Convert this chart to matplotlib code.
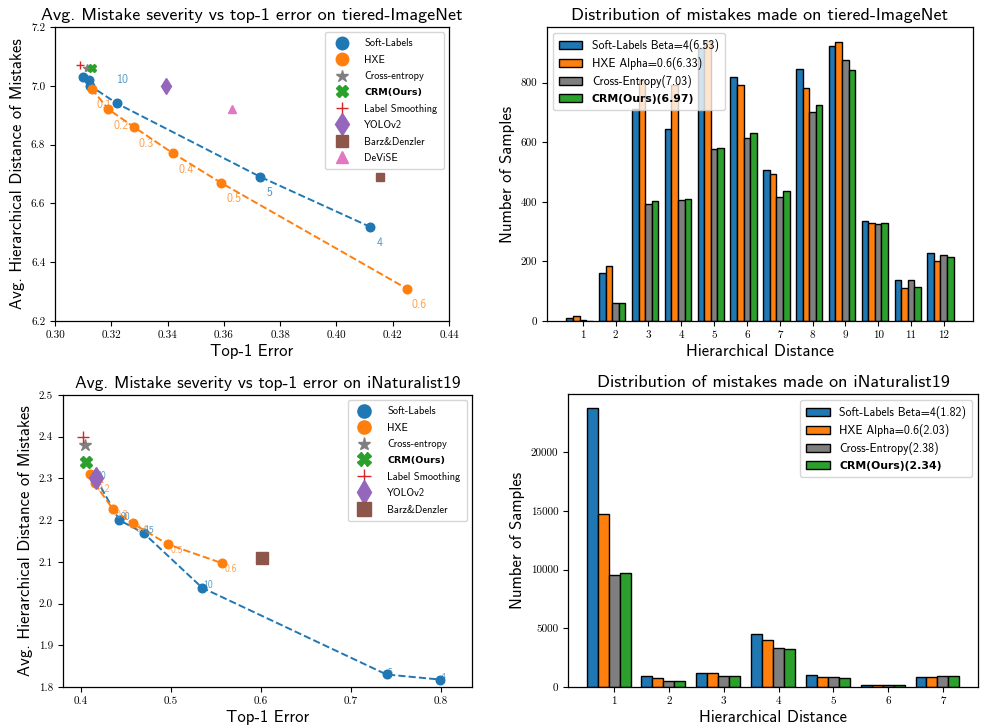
import matplotlib
matplotlib.use("Agg")
import matplotlib.pyplot as plt
from matplotlib.lines import Line2D
import numpy as np

plt.rcParams["font.family"] = ["cmss10", "DejaVu Sans"]
plt.rcParams["axes.unicode_minus"] = False
plt.rcParams["axes.linewidth"] = 0.9

# ---------------------------------------------------------------
# data: tiered-ImageNet (error vs mistake severity)
# ---------------------------------------------------------------
tiered_soft_err = [0.310, 0.312, 0.3125, 0.322, 0.373, 0.412]
tiered_soft_dist = [7.03, 7.02, 7.00, 6.94, 6.69, 6.52]
tiered_soft_lab = ["", "", "", "10", "5", "4"]

tiered_hxe_err = [0.313, 0.319, 0.328, 0.342, 0.359, 0.425]
tiered_hxe_dist = [6.99, 6.92, 6.86, 6.77, 6.67, 6.31]
tiered_hxe_lab = ["0.1", "0.2", "0.3", "0.4", "0.5", "0.6"]

tiered_other_names = ["Cross-entropy", "CRM(Ours)", "Label Smoothing", "YOLOv2", "Barz&Denzler", "DeViSE"]
tiered_other_err = [0.3115, 0.3133, 0.309, 0.3395, 0.4155, 0.363]
tiered_other_dist = [7.06, 7.06, 7.07, 7.00, 6.69, 6.92]

# data: iNaturalist19 (error vs mistake severity)
inat_soft_err = [0.417, 0.443, 0.470, 0.535, 0.740, 0.799]
inat_soft_dist = [2.30, 2.20, 2.169, 2.038, 1.830, 1.818]
inat_soft_lab = ["30", "20", "15", "10", "5", "4"]

inat_hxe_err = [0.410, 0.4155, 0.436, 0.458, 0.497, 0.557]
inat_hxe_dist = [2.31, 2.288, 2.226, 2.192, 2.142, 2.097]
inat_hxe_lab = ["0.1", "0.2", "0.3", "0.4", "0.5", "0.6"]

inat_other_names = ["Cross-entropy", "CRM(Ours)", "Label Smoothing", "YOLOv2", "Barz&Denzler"]
inat_other_err = [0.4044, 0.4063, 0.403, 0.4174, 0.6017]
inat_other_dist = [2.381, 2.34, 2.40, 2.30, 2.109]

# ---------------------------------------------------------------
# data: mistake distributions
# ---------------------------------------------------------------
tiered_dist_x = list(range(1, 13))
tiered_soft_cnt = [9, 160, 712, 645, 917, 818, 507, 845, 924, 335, 136, 229]
tiered_hxe_cnt = [17, 183, 809, 793, 940, 791, 493, 782, 937, 328, 112, 202]
tiered_ce_cnt = [2, 60, 394, 405, 578, 613, 417, 700, 877, 325, 139, 223]
tiered_crm_cnt = [1, 61, 403, 409, 580, 630, 435, 726, 844, 329, 114, 214]
tiered_bar_labels = ["Soft-Labels Beta=4(6.53)", "HXE Alpha=0.6(6.33)", "Cross-Entropy(7.03)", "CRM(Ours)(6.97)"]

inat_dist_x = list(range(1, 8))
inat_soft_cnt = [23770, 980, 1185, 4515, 985, 190, 845]
inat_hxe_cnt = [14760, 760, 1185, 4005, 845, 190, 870]
inat_ce_cnt = [9500, 475, 930, 3355, 815, 200, 980]
inat_crm_cnt = [9730, 474, 900, 3270, 760, 190, 950]
inat_bar_labels = ["Soft-Labels Beta=4(1.82)", "HXE Alpha=0.6(2.03)", "Cross-Entropy(2.38)", "CRM(Ours)(2.34)"]

# styles
C_SOFT, C_HXE = "#1f77b4", "#ff7f0e"
other_style = {
    "Cross-entropy": ("*", "#7f7f7f"),
    "CRM(Ours)": ("X", "#2ca02c"),
    "Label Smoothing": ("+", "#d62728"),
    "YOLOv2": ("d", "#9467bd"),
    "Barz&Denzler": ("s", "#8c564b"),
    "DeViSE": ("^", "#e377c2"),
}
bar_colors = ["#1f77b4", "#ff7f0e", "#7f7f7f", "#2ca02c"]

TITLE_FS = 13.0
LABEL_FS = 12
TICK_FS = 8
LEG_FS = 7.5
BAR_LEG_FS = 8.5


def set_ticks(ax, xt, xl, yt, yl):
    ax.set_xticks(xt)
    ax.set_xticklabels(xl, fontfamily="cmr10", fontsize=TICK_FS)
    ax.set_yticks(yt)
    ax.set_yticklabels(yl, fontfamily="cmr10", fontsize=TICK_FS)


def bold_crm(leg, idx, fs):
    t = leg.get_texts()[idx]
    t.set_fontfamily("DejaVu Sans")
    t.set_fontweight("bold")
    t.set_fontsize(fs - 0.7)


def tradeoff_panel(ax, sx, sy, slab, hx, hy, hlab, names, ox, oy, ms_other, leg_ms,
                   lab_fs, soff, hoff, special_off=None):
    ax.plot(sx, sy, "--o", color=C_SOFT, ms=6.2, lw=1.4, zorder=2)
    ax.plot(hx, hy, "--o", color=C_HXE, ms=6.2, lw=1.4, zorder=3)
    for i, t in enumerate(slab):
        if not t:
            continue
        off = soff
        if special_off and t in special_off:
            off = special_off[t]
        ax.annotate(t, (sx[i], sy[i]), xytext=off, textcoords="offset points",
                    color=C_SOFT, alpha=0.75, fontsize=lab_fs, ha="left", va="center")
    for i, t in enumerate(hlab):
        ax.annotate(t, (hx[i], hy[i]), xytext=hoff, textcoords="offset points",
                    color=C_HXE, alpha=0.75, fontsize=lab_fs, ha="left", va="center")
    for n, x, y in zip(names, ox, oy):
        m, c = other_style[n]
        ms = ms_other * (1.3 if m == "d" else 1.0)
        ax.plot([x], [y], ls="none", marker=m, color=c, ms=ms, zorder=4)

    handles = [Line2D([], [], ls="none", marker="o", color=C_SOFT, ms=leg_ms),
               Line2D([], [], ls="none", marker="o", color=C_HXE, ms=leg_ms)]
    for n in names:
        m, c = other_style[n]
        handles.append(Line2D([], [], ls="none", marker=m, color=c,
                              ms=leg_ms * (1.25 if m == "d" else 1.0)))
    leg = ax.legend(handles, ["Soft-Labels", "HXE"] + names, loc="upper right",
                    fontsize=LEG_FS, handletextpad=1.2, borderpad=0.6, labelspacing=0.62)
    bold_crm(leg, 3, LEG_FS)
    ax.set_xlabel("Top-1 Error", fontsize=LABEL_FS, labelpad=3)
    ax.set_ylabel("Avg. Hierarchical Distance of Mistakes", fontsize=LABEL_FS, labelpad=4)


def dist_panel(ax, xs, counts, labels, loc):
    x = np.array(xs)
    w = 0.2
    for k, (cnt, lab) in enumerate(zip(counts, labels)):
        ax.bar(x + (k - 2) * w, cnt, width=w, color=bar_colors[k], edgecolor="black",
               linewidth=1.0, label=lab)
    leg = ax.legend(loc=loc, fontsize=BAR_LEG_FS, borderpad=0.5, labelspacing=0.45)
    bold_crm(leg, 3, BAR_LEG_FS)
    ax.set_xlabel("Hierarchical Distance", fontsize=LABEL_FS, labelpad=3)
    ax.set_ylabel("Number of Samples", fontsize=LABEL_FS, labelpad=4)


fig = plt.figure(figsize=(9.86, 7.28), dpi=100)

# ---------------------------------------------------------------
# top-left
# ---------------------------------------------------------------
ax1 = fig.add_axes([0.0558, 0.5591, 0.3996, 0.4038])
tradeoff_panel(ax1, tiered_soft_err, tiered_soft_dist, tiered_soft_lab,
               tiered_hxe_err, tiered_hxe_dist, tiered_hxe_lab,
               tiered_other_names, tiered_other_err, tiered_other_dist,
               ms_other=6, leg_ms=9, lab_fs=8.5, soff=(4.3, -11.5), hoff=(3.6, -12),
               special_off={"10": (0.3, 17)})
ax1.set_xlim(0.30, 0.44)
ax1.set_ylim(6.2, 7.2)
xt = np.round(np.arange(0.30, 0.441, 0.02), 2)
yt = np.round(np.arange(6.2, 7.21, 0.2), 1)
set_ticks(ax1, xt, [f"{v:.2f}" for v in xt], yt, [f"{v:.1f}" for v in yt])
ax1.set_title("Avg. Mistake severity vs top-1 error on tiered-ImageNet", fontsize=TITLE_FS, pad=5)

# ---------------------------------------------------------------
# top-right
# ---------------------------------------------------------------
ax2 = fig.add_axes([0.5548, 0.5591, 0.4320, 0.4038])
dist_panel(ax2, tiered_dist_x,
           [tiered_soft_cnt, tiered_hxe_cnt, tiered_ce_cnt, tiered_crm_cnt],
           tiered_bar_labels, "upper left")
yt = [0, 200, 400, 600, 800]
set_ticks(ax2, tiered_dist_x, [str(v) for v in tiered_dist_x], yt, [str(v) for v in yt])
ax2.set_title("Distribution of mistakes made on tiered-ImageNet", fontsize=TITLE_FS, pad=5)

# ---------------------------------------------------------------
# bottom-left
# ---------------------------------------------------------------
ax3 = fig.add_axes([0.0636, 0.0563, 0.4151, 0.4011])
tradeoff_panel(ax3, inat_soft_err, inat_soft_dist, inat_soft_lab,
               inat_hxe_err, inat_hxe_dist, inat_hxe_lab,
               inat_other_names, inat_other_err, inat_other_dist,
               ms_other=9, leg_ms=9.5, lab_fs=7, soff=(0.7, 2), hoff=(2, -4.3))
ax3.set_xlim(0.38, 0.835)
ax3.set_ylim(1.8, 2.5)
xt = [0.4, 0.5, 0.6, 0.7, 0.8]
yt = np.round(np.arange(1.8, 2.51, 0.1), 1)
set_ticks(ax3, xt, [f"{v:.1f}" for v in xt], yt, [f"{v:.1f}" for v in yt])
ax3.set_title("Avg. Mistake severity vs top-1 error on iNaturalist19", fontsize=TITLE_FS - 0.4, pad=5)

# ---------------------------------------------------------------
# bottom-right
# ---------------------------------------------------------------
ax4 = fig.add_axes([0.5761, 0.0563, 0.4158, 0.4025])
dist_panel(ax4, inat_dist_x,
           [inat_soft_cnt, inat_hxe_cnt, inat_ce_cnt, inat_crm_cnt],
           inat_bar_labels, "upper right")
yt = [0, 5000, 10000, 15000, 20000]
set_ticks(ax4, inat_dist_x, [str(v) for v in inat_dist_x], yt, [str(v) for v in yt])
ax4.set_title("Distribution of mistakes made on iNaturalist19", fontsize=TITLE_FS, pad=5)

fig.savefig("out.png", dpi=100)
